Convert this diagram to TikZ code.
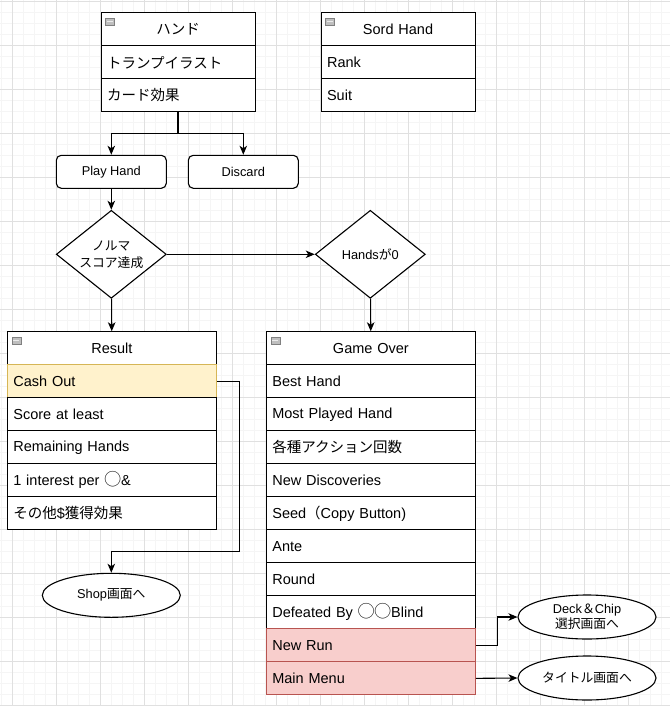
\documentclass[tikz,border=0pt]{standalone}
\usepackage{fontspec}
\setmainfont{Liberation Sans}
\newfontfamily\jpfont{Noto Sans CJK JP}
\newcommand{\jpn}[1]{{\jpfont #1}}
\newcommand{\maru}{\scalebox{1.15}{\jpn{◯}}}
\usetikzlibrary{arrows.meta, shapes.geometric, positioning}

\definecolor{cashfill}{HTML}{FFF2CC}
\definecolor{cashline}{HTML}{D6B656}
\definecolor{exitfill}{HTML}{F8CECC}
\definecolor{exitline}{HTML}{B85450}

\tikzset{
  box/.style={draw, fill=white, line width=1.1pt, anchor=north west, minimum height=33pt,
    inner xsep=6pt, inner ysep=0pt, font=\fontsize{14.5}{17}\selectfont},
  row/.style={box, text width=#1, align=left},
  head/.style={box, text width=#1, align=center},
  btn/.style={draw, fill=white, line width=1.1pt, rounded corners=5pt, minimum width=110pt,
    minimum height=33pt, font=\fontsize{12.8}{15}\selectfont},
  cond/.style={diamond, draw, fill=white, line width=1.1pt, aspect=1.25, minimum width=110pt,
    minimum height=88pt, inner sep=0pt, align=center, font=\fontsize{12.8}{17}\selectfont},
  goal/.style={ellipse, draw, fill=white, line width=1.1pt, minimum width=138pt,
    minimum height=44pt, inner sep=0pt, align=center, font=\fontsize{12.8}{15}\selectfont},
  arr/.style={line width=1.1pt, -{Stealth[length=9pt, width=7.5pt, inset=2.5pt]}},
  cash/.style={fill=cashfill, draw=cashline},
  exit/.style={fill=exitfill, draw=exitline},
}

\begin{document}
\begin{tikzpicture}[x=1pt, y=-1pt]
  \useasboundingbox (0,0) rectangle (670,706);
  % grid
  \foreach \x in {1.3,12.3,...,670} { \draw[black!4, line width=0.8pt] (\x,0) -- (\x,706); }
  \foreach \y in {1,12,...,706} { \draw[black!4, line width=0.8pt] (0,\y) -- (670,\y); }
  \foreach \x in {12.3,56.3,...,670} { \draw[black!12, line width=0.9pt] (\x,0) -- (\x,706); }
  \foreach \y in {1,45,...,706} { \draw[black!12, line width=0.9pt] (0,\y) -- (670,\y); }

  \node[head=142pt] (hand) at (100.5,12.3) {\jpn{ハンド}};
  \node[row=142pt] (hand1) at (100.5,45.3) {\jpn{トランプイラスト}};
  \node[row=142pt] (hand2) at (100.5,78.3) {\jpn{カード効果}};

  \node[head=142pt] (sord) at (320.5,12.3) {Sord Hand};
  \node[row=142pt] (sord1) at (320.5,45.3) {Rank};
  \node[row=142pt] (sord2) at (320.5,78.3) {Suit};

  \node[btn] (play) at (111.3,171.8) {Play Hand};
  \node[btn] (discard) at (243.3,171.8) {Discard};

  \node[cond] (norma) at (111.3,254.3) {\jpn{ノルマ}\\\jpn{スコア達成}};
  \node[cond] (zero) at (370.3,254.3) {Hands\jpn{が}0};

  \node[head=197pt] (res) at (6.8,331.3) {Result};
  \node[row=197pt, cash] (res1) at (6.8,364.3) {Cash Out};
  \foreach \t [count=\i from 2] in {Score at least, Remaining Hands, 1 interest per \maru\&, \jpn{その他}\$\jpn{獲得効果}}
    \node[row=197pt] (res\i) at (6.8,331.3+33*\i) {\t};

  \node[head=197pt] (go) at (265.8,331.3) {Game Over};
  \foreach \t [count=\i] in {Best Hand, Most Played Hand, \jpn{各種アクション回数}, New Discoveries,
      Seed\jpn{（}Copy Button), Ante, Round, Defeated By \maru\maru Blind}
    \node[row=197pt] (go\i) at (265.8,331.3+33*\i) {\t};
  \node[row=197pt, exit] (go9) at (265.8,628.3) {New Run};
  \node[row=197pt, exit] (go10) at (265.8,661.3) {Main Menu};

  \node[goal] (shop) at (111.3,595.3) {Shop\jpn{画面へ}};
  \node[goal] (deck) at (587,617) {Deck\jpn{＆}Chip\\\jpn{選択画面へ}};
  \node[goal] (title) at (587,678) {\jpn{タイトル画面へ}};

  % collapse icons
  \foreach \n in {hand, sord, res, go} {
    \draw[fill=black!25, draw=black!50, line width=0.6pt] ([shift={(5,6)}]\n.north west) rectangle ++(9,7);
    \draw[black!8, line width=1pt] ([shift={(6.5,9.5)}]\n.north west) -- ++(6,0);
  }

  % connectors
  \coordinate (split) at (hand2.south |- 0,133.3);
  \draw[line width=2pt] (hand2.south) -- (split);
  \draw[arr] (split) -| (play.north);
  \draw[arr] (split) -| (discard.north);
  \draw[arr] (play) -- (norma);
  \draw[arr] (norma) -- (zero);
  \draw[arr] (norma) -- (res);
  \draw[arr] (zero) -- (go);
  \draw[arr] (res1.east) -- ++(23,0) -- ++(0,170) -| (shop.north);
  \draw[arr] (go9.east) -- ++(22,0) |- (deck.west);
  \draw[arr] (go10.east) -- (title.west);
\end{tikzpicture}
\end{document}
